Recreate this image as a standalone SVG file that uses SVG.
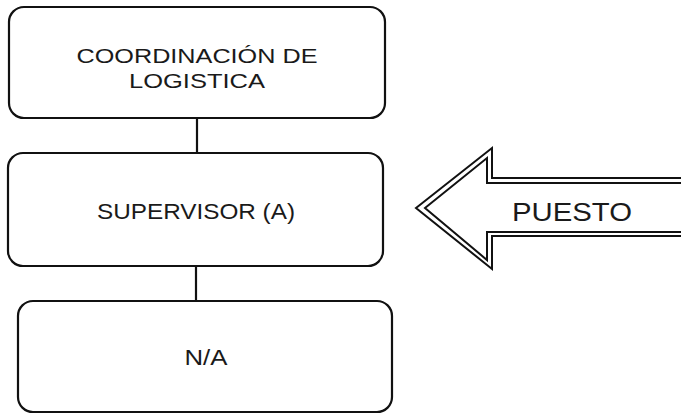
<svg xmlns="http://www.w3.org/2000/svg" width="681" height="414" viewBox="0 0 681 414">
<style>
.box{fill:#fff;stroke:#111;stroke-width:2.2}
.t{font-family:"Liberation Sans","Open Sans",sans-serif;fill:#1a1a1a;text-anchor:middle}
.con{stroke:#111;stroke-width:2.2;fill:none}
.arr{fill:none;stroke:#111;stroke-width:2}
</style>
<rect width="681" height="414" fill="#fff"/>
<g id="connectors">
<line class="con" x1="197" y1="119" x2="197" y2="153"/>
<line class="con" x1="196" y1="266" x2="196" y2="301"/>
</g>
<g id="n1">
<rect class="box" x="9" y="7" width="376" height="111" rx="15"/>
<text class="t" x="197" y="63" font-size="21" textLength="241" lengthAdjust="spacingAndGlyphs">COORDINACIÓN DE</text>
<text class="t" x="197" y="88" font-size="21" textLength="136" lengthAdjust="spacingAndGlyphs">LOGISTICA</text>
</g>
<g id="n2">
<rect class="box" x="8" y="153" width="375" height="113" rx="15"/>
<text class="t" x="196" y="219" font-size="22" textLength="198" lengthAdjust="spacingAndGlyphs">SUPERVISOR (A)</text>
</g>
<g id="n3">
<rect class="box" x="18" y="301" width="374" height="111" rx="15"/>
<text class="t" x="206" y="365" font-size="22" textLength="43" lengthAdjust="spacingAndGlyphs">N/A</text>
</g>
<g id="puesto">
<polygon class="arr" points="416,208 492,148 492,178 690,178 690,236 492,236 492,269"/>
<polygon class="arr" points="425,208 487,158 487,183 690,183 690,232 487,232 487,260"/>
<text class="t" x="572" y="221" font-size="26" textLength="120" lengthAdjust="spacingAndGlyphs">PUESTO</text>
</g>
</svg>
